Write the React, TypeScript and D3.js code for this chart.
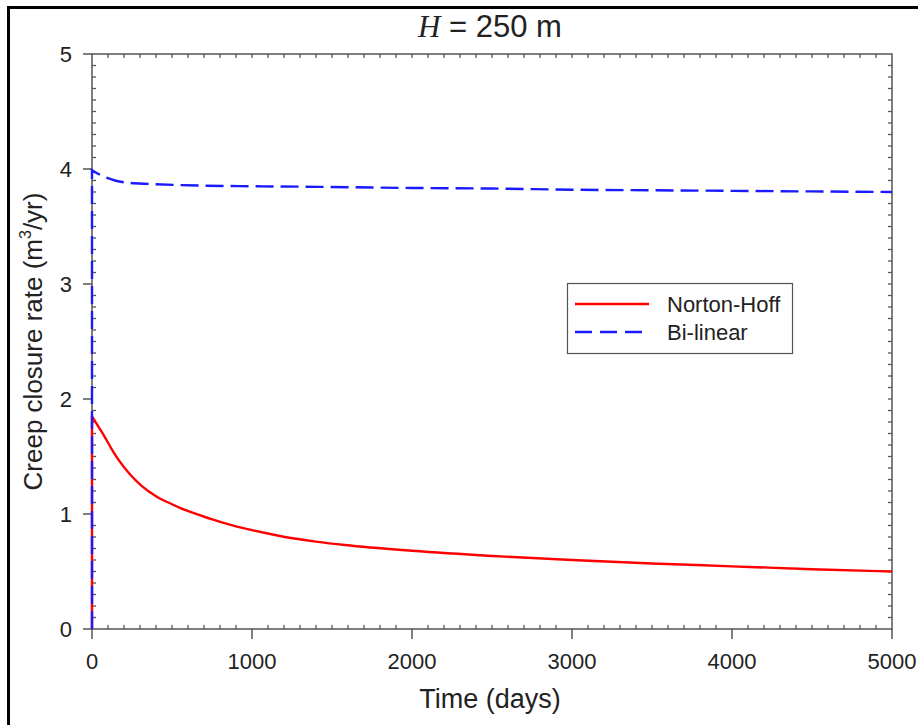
import React from "react";
import * as d3 from "d3";

const nortonDays = [0, 0, 40, 82, 123, 164, 237, 310, 400, 500, 581, 737, 894, 1000, 1206, 1400, 1581, 2000, 2500, 3000, 3500, 4000, 4500, 5000];
const nortonRate = [0, 1.85, 1.76, 1.665, 1.565, 1.475, 1.345, 1.245, 1.155, 1.085, 1.035, 0.96, 0.895, 0.86, 0.8, 0.76, 0.73, 0.68, 0.635, 0.6, 0.57, 0.545, 0.52, 0.5];

const bilinearDays = [0, 0, 50, 100, 144, 225, 360, 550, 700, 1000, 1412, 2000, 2500, 3000, 3500, 4000, 4500, 5000];
const bilinearRate = [0, 3.99, 3.95, 3.92, 3.9, 3.88, 3.87, 3.86, 3.855, 3.85, 3.845, 3.835, 3.83, 3.82, 3.815, 3.81, 3.805, 3.8];

const xTicks = [0, 1000, 2000, 3000, 4000, 5000];
const yTicks = [0, 1, 2, 3, 4, 5];
const seriesNames = ["Norton-Hoff", "Bi-linear"];

const W = 918;
const H = 725;
const M = { left: 92, right: 892, top: 54, bottom: 629 };
const FONT = "'Liberation Sans', Arial, sans-serif";
const AX = "#555";

export default function App() {
  const x = d3.scaleLinear().domain([0, 5000]).range([M.left, M.right]);
  const y = d3.scaleLinear().domain([0, 5]).range([M.bottom, M.top]);

  const lin = d3
    .line<[number, number]>()
    .x((d) => x(d[0]))
    .y((d) => y(d[1]));
  const smooth = d3
    .line<[number, number]>()
    .x((d) => x(d[0]))
    .y((d) => y(d[1]))
    .curve(d3.curveMonotoneX);

  const mk = (days: number[], vals: number[]) => {
    const pts = days.map((d, i) => [d, vals[i]] as [number, number]);
    // vertical rise at t = 0 (first two points) joined to the smooth decay
    const rise = lin(pts.slice(0, 2)) || "";
    const decay = smooth(pts.slice(1)) || "";
    return rise + decay.replace(/^M/, "L");
  };

  const nortonPath = mk(nortonDays, nortonRate);
  const bilinPath = mk(bilinearDays, bilinearRate);

  const xMinor = d3.range(0, 5001, 100);
  const yMinor = d3.range(0, 51, 1).map((v) => v / 10);

  return (
    <svg
      width={W}
      height={H}
      style={{ position: "absolute", left: 0, top: 0, background: "#fff" }}
      fontFamily={FONT}
    >
      {/* frame */}
      <line x1={8.5} y1={7} x2={8.5} y2={H} stroke="#000" strokeWidth={3} />
      <line x1={7} y1={7.5} x2={W} y2={7.5} stroke="#000" strokeWidth={3} />

      {/* title */}
      <text x={490} y={37} textAnchor="middle" fontSize={31} fill="#222">
        <tspan fontFamily="'Liberation Serif', 'Times New Roman', serif" fontStyle="italic">H</tspan>
        <tspan> = 250 m</tspan>
      </text>

      {/* minor ticks */}
      {xMinor.map((v) =>
        v % 1000 === 0 ? null : (
          <g key={"xm" + v}>
            <line x1={x(v)} x2={x(v)} y1={M.bottom} y2={M.bottom - 4} stroke={AX} strokeWidth={1.3} />
            <line x1={x(v)} x2={x(v)} y1={M.top} y2={M.top + 4} stroke={AX} strokeWidth={1.3} />
          </g>
        )
      )}
      {yMinor.map((v) =>
        Math.abs(v - Math.round(v)) < 1e-9 ? null : (
          <g key={"ym" + v}>
            <line x1={M.left} x2={M.left + 4} y1={y(v)} y2={y(v)} stroke={AX} strokeWidth={1.3} />
            <line x1={M.right} x2={M.right - 4} y1={y(v)} y2={y(v)} stroke={AX} strokeWidth={1.3} />
          </g>
        )
      )}

      {/* major ticks */}
      {xTicks.map((v) => (
        <g key={"xt" + v}>
          <line x1={x(v)} x2={x(v)} y1={M.bottom} y2={M.bottom + 10} stroke={AX} strokeWidth={1.5} />
          {v !== 0 && v !== 5000 ? (
            <line x1={x(v)} x2={x(v)} y1={M.top} y2={M.top + 4} stroke={AX} strokeWidth={1.3} />
          ) : null}
          <text x={x(v)} y={669} textAnchor="middle" fontSize={22} fill="#222">
            {v}
          </text>
        </g>
      ))}
      {yTicks.map((v) => (
        <g key={"yt" + v}>
          <line x1={M.left - 9} x2={M.left} y1={y(v)} y2={y(v)} stroke={AX} strokeWidth={1.5} />
          {v !== 0 && v !== 5 ? (
            <line x1={M.right} x2={M.right - 4} y1={y(v)} y2={y(v)} stroke={AX} strokeWidth={1.3} />
          ) : null}
          <text x={72} y={y(v)} dy="0.36em" textAnchor="end" fontSize={22} fill="#222">
            {v}
          </text>
        </g>
      ))}

      {/* axes box */}
      <rect
        x={M.left}
        y={M.top}
        width={M.right - M.left}
        height={M.bottom - M.top}
        fill="none"
        stroke={AX}
        strokeWidth={1.5}
      />

      {/* series (drawn over the axes) */}
      <path d={nortonPath} fill="none" stroke="#ff0000" strokeWidth={2.4} strokeLinejoin="round" />
      <path
        d={bilinPath}
        fill="none"
        stroke="#1a1aff"
        strokeWidth={2.4}
        strokeDasharray="18,7"
      />

      {/* axis titles */}
      <text x={490} y={708} textAnchor="middle" fontSize={27} fill="#222">
        Time (days)
      </text>
      <text
        transform={`translate(42, ${(M.top + M.bottom) / 2}) rotate(-90)`}
        textAnchor="middle"
        fontSize={26}
        fill="#222"
      >
        <tspan>Creep closure rate (m</tspan>
        <tspan fontSize={16} dy={-11}>3</tspan>
        <tspan dy={11}>/yr)</tspan>
      </text>

      {/* legend */}
      <rect x={567.5} y={283.5} width={225} height={70} fill="#fff" stroke={AX} strokeWidth={1.2} />
      <line x1={575} x2={649} y1={304} y2={304} stroke="#ff0000" strokeWidth={2.4} />
      <line x1={575} x2={642} y1={332} y2={332} stroke="#1a1aff" strokeWidth={2.4} strokeDasharray="17,8" />
      <text x={667} y={304} dy="0.36em" fontSize={22} fill="#222">
        {seriesNames[0]}
      </text>
      <text x={667} y={332} dy="0.36em" fontSize={22} fill="#222">
        {seriesNames[1]}
      </text>
    </svg>
  );
}
